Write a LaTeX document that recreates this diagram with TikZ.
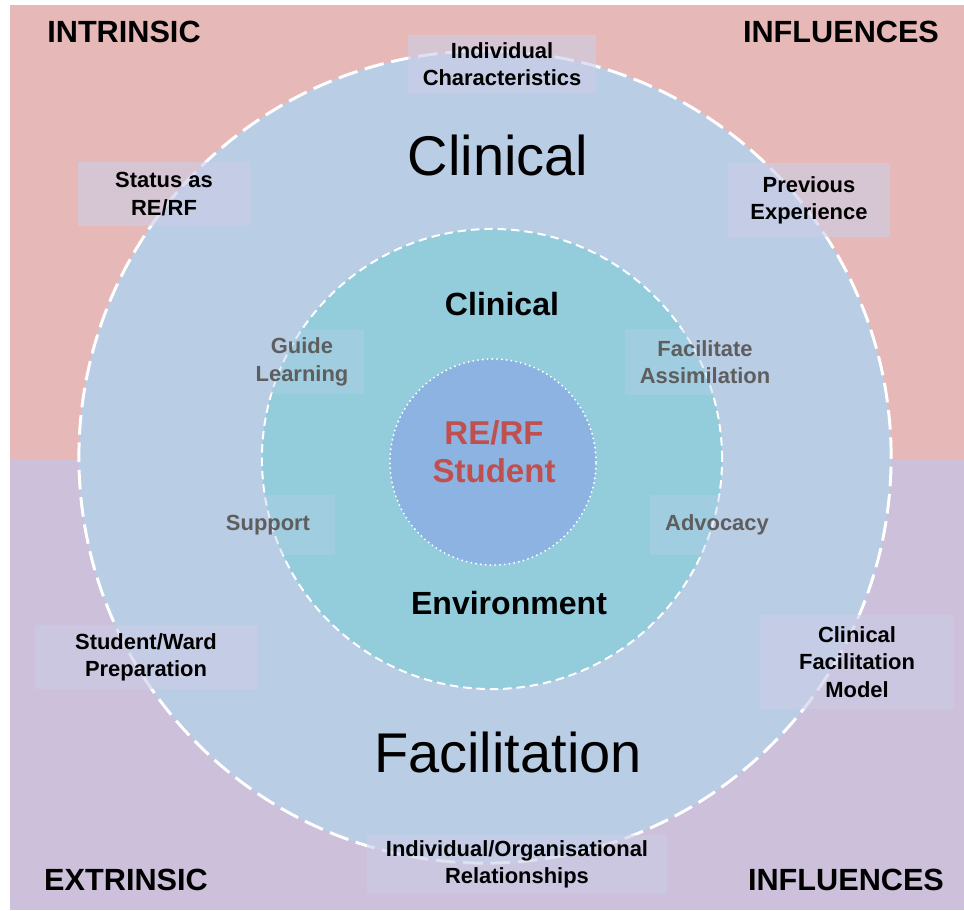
\documentclass[tikz,border=0pt]{standalone}
\usepackage{fontspec}
\setmainfont{Liberation Sans}
\definecolor{intrinsicbg}{HTML}{E6B9B8}
\definecolor{extrinsicbg}{HTML}{CCC0DA}
\definecolor{outerring}{HTML}{B9CDE5}
\definecolor{innerring}{HTML}{93CDDC}
\definecolor{corefill}{HTML}{8DB3E2}
\definecolor{corered}{HTML}{C0504D}
\definecolor{softgrey}{HTML}{5E5E5E}
\definecolor{boxtint}{HTML}{CCCDE6}
\begin{document}
\begin{tikzpicture}[x=0.025cm, y=-0.025cm,
          corner/.style={font=\bfseries\fontsize{21.8}{26}\selectfont, inner sep=0pt},
          big/.style={font=\fontsize{39.8}{46}\selectfont, inner sep=0pt},
          mid/.style={font=\bfseries\fontsize{22.8}{27}\selectfont, inner sep=0pt},
          infl/.style={font=\bfseries\fontsize{15.6}{19.4}\selectfont, align=center,
            fill=boxtint, fill opacity=0.6, text opacity=1, inner sep=0pt},
          role/.style={infl, text=softgrey, fill=outerring, fill opacity=0.35}]
        % Page: intrinsic half above, extrinsic half below.
        \useasboundingbox (0,0) rectangle (964,910);
        \fill[intrinsicbg] (10,5) rectangle (964,460);
        \fill[extrinsicbg] (10,460) rectangle (964,910);
        % Three rings: 1 px = 0.025 cm.
        \node[circle, fill=outerring, draw=white, line width=2.1pt,
              dash pattern=on 14pt off 5.5pt, minimum size=20.3cm] (outer) at (485,457) {};
        \node[circle, fill=innerring, draw=white, line width=1.4pt,
              dash pattern=on 6pt off 3.5pt, minimum size=11.5cm] (inner) at (492,459) {};
        \node[circle, fill=corefill, draw=white, line width=1.5pt, line cap=round,
              dash pattern=on 0pt off 3.4pt, minimum size=5.15cm] (core) at (493,462) {};
        % Corner headings
        \node[corner] (intr) at (124,32) {INTRINSIC};
        \node[corner] (inflA) at (841,32) {INFLUENCES};
        \node[corner] (extr) at (126,880) {EXTRINSIC};
        \node[corner] (inflB) at (846,880) {INFLUENCES};
        % Ring titles
        \node[big] (clinA) at (498,155) {Clinical};
        \node[big] (facil) at (508,752) {Facilitation};
        \node[mid] (clinB) at (502,304) {Clinical};
        \node[mid] (env) at (509,603) {Environment};
        \node[font=\bfseries\fontsize{23.5}{27}\selectfont, text=corered, align=center,
              inner sep=0pt] (stud) at (494,452) {RE/RF\\Student};
        % Influences round the outer ring
        \node[infl, minimum width=4.7cm, minimum height=1.45cm] (indiv) at (502,64) {Individual\\Characteristics};
        \node[infl, minimum width=4.3cm, minimum height=1.6cm] (status) at (164,194) {Status as\\RE/RF};
        \node[infl, minimum width=4.05cm, minimum height=1.85cm] (prev) at (809,200) {Previous\\Experience};
        \node[infl, minimum width=5.55cm, minimum height=1.6cm] (prep) at (146,657) {Student/Ward\\Preparation};
        \node[infl, minimum width=4.85cm, minimum height=2.35cm] (model) at (857,662) {Clinical\\Facilitation\\Model};
        \node[infl, minimum width=7.5cm, minimum height=1.45cm] (relat) at (517,864) {Individual/Organisational\\Relationships};
        % Roles of the facilitator in the inner ring
        \node[role, minimum width=3.1cm, minimum height=1.6cm] (guide) at (302,362) {Guide\\Learning};
        \node[role, minimum width=4cm, minimum height=1.65cm] (assim) at (705,362) {Facilitate\\Assimilation};
        \node[role, minimum width=3.35cm, minimum height=1.5cm] (supp) at (268,525) {Support};
        \node[role, minimum width=3.35cm, minimum height=1.5cm] (advoc) at (717,525) {Advocacy};
      \end{tikzpicture}
\end{document}
